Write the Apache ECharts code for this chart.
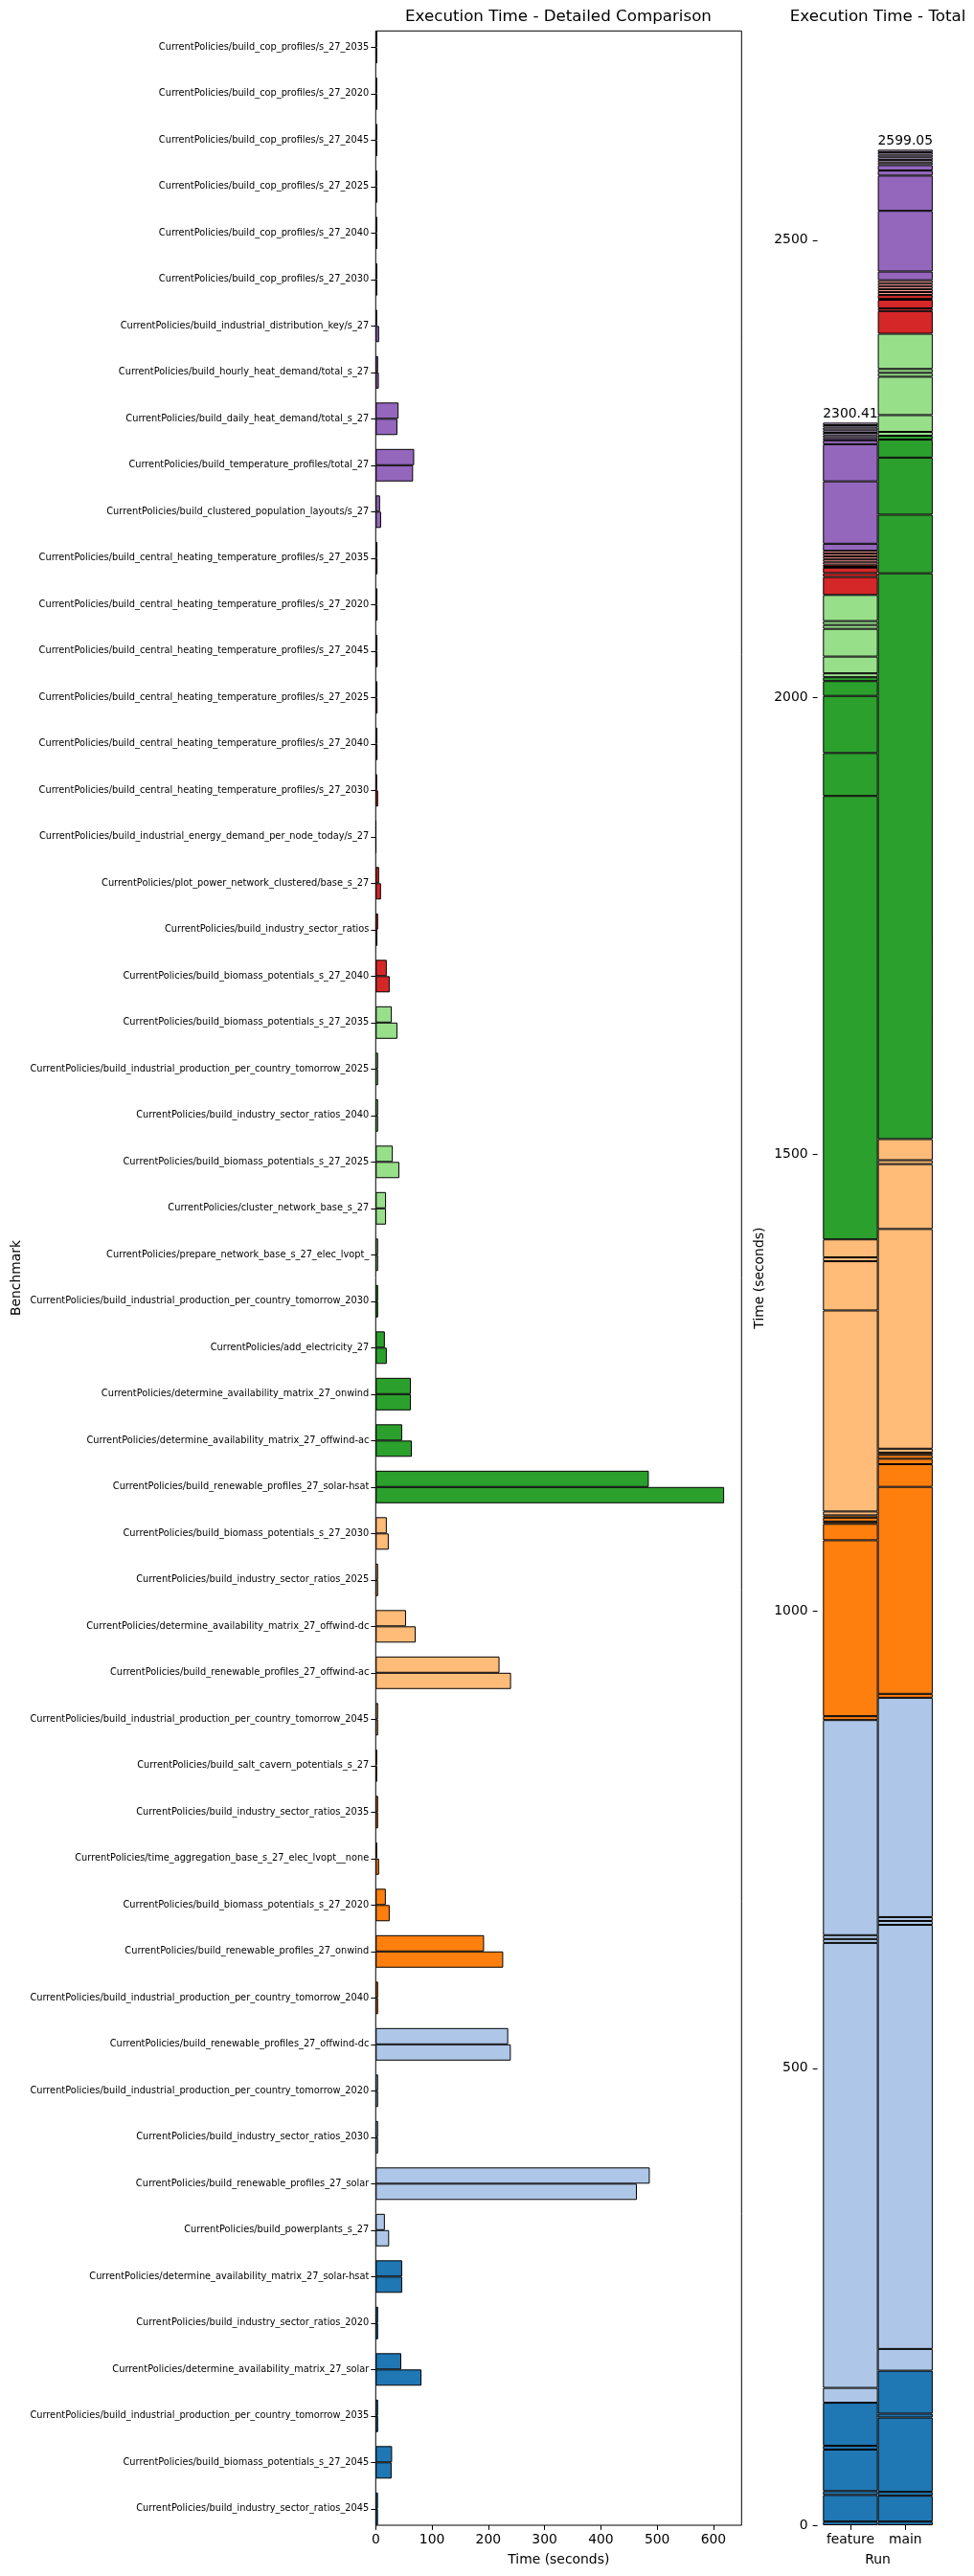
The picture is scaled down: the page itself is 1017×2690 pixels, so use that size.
<!DOCTYPE html>
<html><head><meta charset="utf-8">
<script src="https://cdn.jsdelivr.net/npm/echarts@6/dist/echarts.min.js"></script>
<style>html,body{margin:0;padding:0;background:#fff}#c{width:1017px;height:2690px}</style>
</head><body><div id="c"></div>
<script>
// ---- data (display order: top to bottom) ----
const categories = [
  'CurrentPolicies/build_cop_profiles/s_27_2035',
  'CurrentPolicies/build_cop_profiles/s_27_2020',
  'CurrentPolicies/build_cop_profiles/s_27_2045',
  'CurrentPolicies/build_cop_profiles/s_27_2025',
  'CurrentPolicies/build_cop_profiles/s_27_2040',
  'CurrentPolicies/build_cop_profiles/s_27_2030',
  'CurrentPolicies/build_industrial_distribution_key/s_27',
  'CurrentPolicies/build_hourly_heat_demand/total_s_27',
  'CurrentPolicies/build_daily_heat_demand/total_s_27',
  'CurrentPolicies/build_temperature_profiles/total_27',
  'CurrentPolicies/build_clustered_population_layouts/s_27',
  'CurrentPolicies/build_central_heating_temperature_profiles/s_27_2035',
  'CurrentPolicies/build_central_heating_temperature_profiles/s_27_2020',
  'CurrentPolicies/build_central_heating_temperature_profiles/s_27_2045',
  'CurrentPolicies/build_central_heating_temperature_profiles/s_27_2025',
  'CurrentPolicies/build_central_heating_temperature_profiles/s_27_2040',
  'CurrentPolicies/build_central_heating_temperature_profiles/s_27_2030',
  'CurrentPolicies/build_industrial_energy_demand_per_node_today/s_27',
  'CurrentPolicies/plot_power_network_clustered/base_s_27',
  'CurrentPolicies/build_industry_sector_ratios',
  'CurrentPolicies/build_biomass_potentials_s_27_2040',
  'CurrentPolicies/build_biomass_potentials_s_27_2035',
  'CurrentPolicies/build_industrial_production_per_country_tomorrow_2025',
  'CurrentPolicies/build_industry_sector_ratios_2040',
  'CurrentPolicies/build_biomass_potentials_s_27_2025',
  'CurrentPolicies/cluster_network_base_s_27',
  'CurrentPolicies/prepare_network_base_s_27_elec_lvopt_',
  'CurrentPolicies/build_industrial_production_per_country_tomorrow_2030',
  'CurrentPolicies/add_electricity_27',
  'CurrentPolicies/determine_availability_matrix_27_onwind',
  'CurrentPolicies/determine_availability_matrix_27_offwind-ac',
  'CurrentPolicies/build_renewable_profiles_27_solar-hsat',
  'CurrentPolicies/build_biomass_potentials_s_27_2030',
  'CurrentPolicies/build_industry_sector_ratios_2025',
  'CurrentPolicies/determine_availability_matrix_27_offwind-dc',
  'CurrentPolicies/build_renewable_profiles_27_offwind-ac',
  'CurrentPolicies/build_industrial_production_per_country_tomorrow_2045',
  'CurrentPolicies/build_salt_cavern_potentials_s_27',
  'CurrentPolicies/build_industry_sector_ratios_2035',
  'CurrentPolicies/time_aggregation_base_s_27_elec_lvopt__none',
  'CurrentPolicies/build_biomass_potentials_s_27_2020',
  'CurrentPolicies/build_renewable_profiles_27_onwind',
  'CurrentPolicies/build_industrial_production_per_country_tomorrow_2040',
  'CurrentPolicies/build_renewable_profiles_27_offwind-dc',
  'CurrentPolicies/build_industrial_production_per_country_tomorrow_2020',
  'CurrentPolicies/build_industry_sector_ratios_2030',
  'CurrentPolicies/build_renewable_profiles_27_solar',
  'CurrentPolicies/build_powerplants_s_27',
  'CurrentPolicies/determine_availability_matrix_27_solar-hsat',
  'CurrentPolicies/build_industry_sector_ratios_2020',
  'CurrentPolicies/determine_availability_matrix_27_solar',
  'CurrentPolicies/build_industrial_production_per_country_tomorrow_2035',
  'CurrentPolicies/build_biomass_potentials_s_27_2045',
  'CurrentPolicies/build_industry_sector_ratios_2045'
];
const featureTimes = [2.82, 2.62, 2.93, 2.72, 2.82, 2.93, 2.52, 4.24, 40.60, 68.30,
  7.67, 3.03, 3.03, 3.03, 3.03, 3.03, 2.52, 0.81, 5.95, 4.24,
  19.67, 28.60, 4.24, 4.24, 30.31, 18.36, 4.24, 4.24, 16.24, 62.44,
  47.01, 485.13, 19.67, 4.24, 53.87, 219.92, 4.24, 2.52, 4.24, 2.52,
  17.96, 192.48, 4.24, 235.35, 4.24, 4.24, 486.85, 16.24, 47.01, 4.24,
  45.40, 4.24, 29.10, 4.04];
const mainTimes = [2.72, 2.82, 2.82, 2.93, 2.72, 2.82, 5.95, 5.55, 38.54, 66.38,
  9.58, 3.23, 3.23, 3.23, 3.23, 3.23, 4.24, 0.91, 9.38, 3.03,
  24.82, 38.54, 4.24, 4.24, 41.97, 18.36, 4.24, 4.24, 19.67, 62.44,
  64.16, 619.00, 23.10, 4.24, 71.02, 240.40, 4.24, 2.52, 4.24, 5.95,
  24.82, 226.45, 4.24, 240.00, 4.24, 4.24, 464.00, 23.80, 47.01, 4.24,
  81.31, 4.24, 28.25, 4.04];
const runs = ['feature', 'main'];
const detailTicks = [0, 100, 200, 300, 400, 500, 600];
const totalTicks = [0, 500, 1000, 1500, 2000, 2500];

// ---- styling ----
const palette = ['#1f77b4','#aec7e8','#ff7f0e','#ffbb78','#2ca02c','#98df8a','#d62728','#ff9896','#9467bd','#c5b0d5'];
const groupSizes = [6, 5, 6, 5, 5, 6, 5, 5, 5, 6]; // colour groups counted from the bottom category
const F = 'DejaVu Sans';
const N = categories.length;
const bottomColors = [];
groupSizes.forEach((n, g) => { for (let k = 0; k < n; k++) bottomColors.push(palette[g]); });
const catColors = bottomColors.slice().reverse();
const sum = a => a.reduce((s, v) => s + v, 0);
const totals = [sum(featureTimes), sum(mainTimes)];
const xMax = Math.max(...featureTimes, ...mainTimes) * 1.05;
const yMax = Math.max(...totals) * 1.05;

const txt = (size) => ({ fontSize: size, color: '#000', fontFamily: F });
const tickStyle = { lineStyle: { color: '#000', width: 1 } };
const plain = v => String(v);

const series = [
  { type: 'bar', name: 'feature', xAxisIndex: 0, yAxisIndex: 0, data: featureTimes,
    barWidth: 16.98, barGap: '0%',
    itemStyle: { color: p => catColors[p.dataIndex], borderColor: '#000', borderWidth: 1 } },
  { type: 'bar', name: 'main', xAxisIndex: 0, yAxisIndex: 0, data: mainTimes,
    barWidth: 16.98, barGap: '0%',
    itemStyle: { color: p => catColors[p.dataIndex], borderColor: '#000', borderWidth: 1 } }
];
for (let i = 0; i < N; i++) {
  const r = N - 1 - i;
  const s = { type: 'bar', stack: 'total', xAxisIndex: 2, yAxisIndex: 2, barWidth: '100%',
    name: categories[r], data: [featureTimes[r], mainTimes[r]],
    itemStyle: { color: bottomColors[i], borderColor: '#000', borderWidth: 1 } };
  if (i === N - 1) {
    s.label = { show: true, position: 'top', distance: 2, formatter: p => totals[p.dataIndex].toFixed(2), ...txt(13.9) };
  }
  series.push(s);
}

const chart = echarts.init(document.getElementById('c'));
chart.setOption({
  animation: false,
  backgroundColor: '#fff',
  textStyle: { fontFamily: F },
  title: [
    { text: 'Execution Time - Detailed Comparison', left: 583, top: 9, textAlign: 'center', padding: 0,
      textStyle: { ...txt(16.7), fontWeight: 'normal' } },
    { text: 'Execution Time - Total', left: 916.6, top: 9, textAlign: 'center', padding: 0,
      textStyle: { ...txt(16.7), fontWeight: 'normal' } }
  ],
  grid: [
    { left: 392.3, top: 25.05, width: 382, height: 2619, show: false },
    { left: 392.3, top: 32.3, width: 382, height: 2604.7, show: true, borderColor: '#000', borderWidth: 1, backgroundColor: 'transparent' },
    { left: 859.3, top: 32.3, width: 114.6, height: 2604.7, show: false }
  ],
  xAxis: [
    { gridIndex: 0, type: 'value', min: 0, max: xMax, show: false },
    { gridIndex: 1, type: 'value', min: 0, max: xMax,
      axisLine: { show: false }, splitLine: { show: false },
      axisTick: { show: true, length: 4.9, customValues: detailTicks, ...tickStyle },
      axisLabel: { customValues: detailTicks, formatter: plain, margin: 8, ...txt(13.9) },
      name: 'Time (seconds)', nameLocation: 'middle', nameGap: 29, nameTextStyle: txt(13.9) },
    { gridIndex: 2, type: 'category', data: runs,
      axisLine: { show: false },
      axisTick: { show: true, alignWithLabel: true, interval: 0, length: 4.9, ...tickStyle },
      axisLabel: { interval: 0, hideOverlap: false, margin: 8, ...txt(13.9) },
      name: 'Run', nameLocation: 'middle', nameGap: 29, nameTextStyle: txt(13.9) }
  ],
  yAxis: [
    { gridIndex: 0, type: 'category', inverse: true, data: categories,
      axisLine: { show: false },
      axisTick: { show: true, alignWithLabel: true, interval: 0, length: 4.9, ...tickStyle },
      axisLabel: { interval: 0, margin: 7, ...txt(9.8) },
      name: 'Benchmark', nameLocation: 'middle', nameGap: 368, nameTextStyle: txt(13.9) },
    { gridIndex: 1, type: 'value', show: false },
    { gridIndex: 2, type: 'value', min: 0, max: yMax, offset: 5.7,
      axisLine: { show: false }, splitLine: { show: false },
      axisTick: { show: true, length: 4.9, customValues: totalTicks, ...tickStyle },
      axisLabel: { customValues: totalTicks, formatter: plain, margin: 10, ...txt(13.9) },
      name: 'Time (seconds)', nameLocation: 'middle', nameGap: 53, nameTextStyle: txt(13.9) }
  ],
  series: series
});
</script></body></html>
